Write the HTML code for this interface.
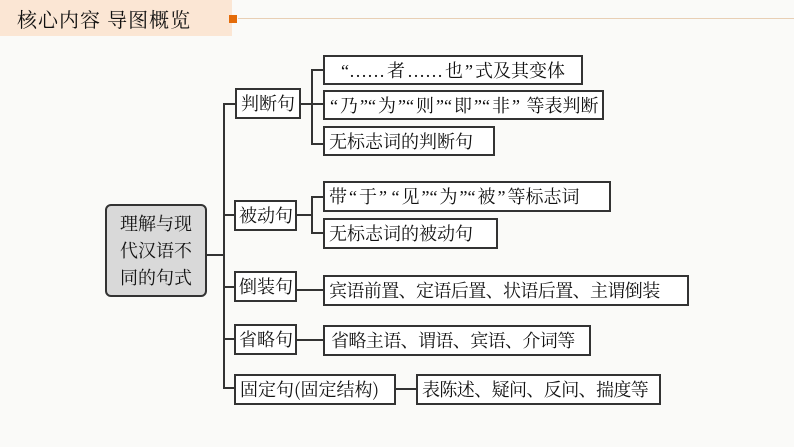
<!DOCTYPE html>
<html><head><meta charset="utf-8"><style>
body{margin:0;width:794px;height:447px;background:#fafaf8;position:relative;overflow:hidden;font-family:"Noto Serif CJK SC","Liberation Serif",serif;}
.b{position:absolute;box-sizing:border-box;border:2px solid #333;background:#fff;font-size:18px;line-height:27px;color:#111;white-space:nowrap;padding-left:5px;overflow:hidden;}
.q{font-family:"Liberation Serif",serif;padding:0 2px;}
.h{position:absolute;background:#333;height:2px;}
.v{position:absolute;background:#333;width:2px;}
</style></head><body>
<div style="position:absolute;left:0;top:0;width:232px;height:36px;background:#fbe6d4"></div>
<div style="position:absolute;left:17px;top:4px;font-size:20px;letter-spacing:1px;color:#111">核心内容 导图概览</div>
<div style="position:absolute;left:229px;top:15px;width:8px;height:8px;background:#e46c0a"></div>
<div style="position:absolute;left:238px;top:18px;width:556px;height:1px;background:#e8cfb5"></div>

<div class="b" style="left:105px;top:204px;width:102px;height:93px;background:#d9d9d9;border-radius:6px;text-align:center;padding:4px 0 0;line-height:27px">理解与现<br>代汉语不<br>同的句式</div>
<div class="h" style="left:206px;top:254px;width:19px"></div>
<div class="v" style="left:223px;top:103px;height:285px"></div>
<div class="h" style="left:223px;top:103px;width:12px"></div>
<div class="h" style="left:223px;top:214px;width:12px"></div>
<div class="h" style="left:223px;top:286px;width:12px"></div>
<div class="h" style="left:223px;top:338px;width:12px"></div>
<div class="h" style="left:223px;top:387px;width:12px"></div>

<div class="b" style="left:235px;top:88px;width:66px;height:31px;padding-left:4px">判断句</div>
<div class="b" style="left:234px;top:200px;width:63px;height:31px;padding-left:3px">被动句</div>
<div class="b" style="left:234px;top:271px;width:63px;height:31px;padding-left:3px">倒装句</div>
<div class="b" style="left:234px;top:324px;width:63px;height:31px;padding-left:3px">省略句</div>
<div class="b" style="left:234px;top:374px;width:162px;height:31px;padding-left:4px">固定句(固定结构)</div>

<div class="h" style="left:301px;top:103px;width:11px"></div>
<div class="v" style="left:311px;top:69px;height:76px"></div>
<div class="h" style="left:311px;top:69px;width:12px"></div>
<div class="h" style="left:311px;top:103px;width:12px"></div>
<div class="h" style="left:311px;top:143px;width:12px"></div>
<div class="b" style="left:323px;top:55px;width:260px;height:30px;padding-left:14px"><span class="q">“……</span>者<span class="q">……</span>也<span class="q">”</span>式及其变体</div>
<div class="b" style="left:323px;top:90px;width:281px;height:30px;padding-left:3px"><span class="q">“</span>乃<span class="q">”“</span>为<span class="q">”“</span>则<span class="q">”“</span>即<span class="q">”“</span>非<span class="q">”</span> 等表判断</div>
<div class="b" style="left:323px;top:126px;width:172px;height:30px;padding-left:4px">无标志词的判断句</div>

<div class="h" style="left:297px;top:214px;width:15px"></div>
<div class="v" style="left:311px;top:196px;height:38px"></div>
<div class="h" style="left:311px;top:196px;width:12px"></div>
<div class="h" style="left:311px;top:232px;width:12px"></div>
<div class="b" style="left:323px;top:181px;width:288px;height:31px;padding-left:4px">带<span class="q">“</span>于<span class="q">” “</span>见<span class="q">”“</span>为<span class="q">”“</span>被<span class="q">”</span>等标志词</div>
<div class="b" style="left:323px;top:218px;width:175px;height:31px;padding-left:4px">无标志词的被动句</div>

<div class="h" style="left:297px;top:289px;width:26px"></div>
<div class="b" style="left:323px;top:275px;width:366px;height:31px;padding-left:4px;letter-spacing:-0.6px">宾语前置、定语后置、状语后置、主谓倒装</div>
<div class="h" style="left:297px;top:339px;width:26px"></div>
<div class="b" style="left:323px;top:325px;width:268px;height:31px;padding-left:6px;letter-spacing:-0.6px">省略主语、谓语、宾语、介词等</div>
<div class="h" style="left:396px;top:388px;width:20px"></div>
<div class="b" style="left:416px;top:374px;width:245px;height:31px;padding-left:4px;letter-spacing:-0.6px">表陈述、疑问、反问、揣度等</div>
</body></html>
